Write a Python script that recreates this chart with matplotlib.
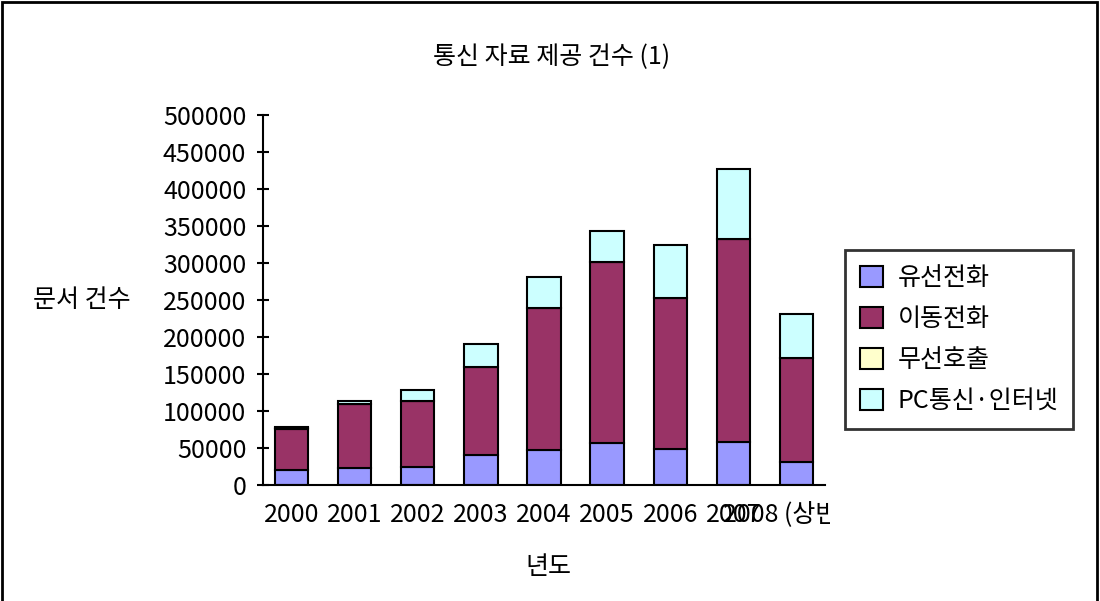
import matplotlib
matplotlib.use('Agg')
import matplotlib.pyplot as plt
import numpy as np
from matplotlib.patches import Rectangle, Patch
from matplotlib.transforms import Bbox

plt.rcParams['font.family'] = ['Noto Sans CJK KR', 'DejaVu Sans']

years = ['2000', '2001', '2002', '2003', '2004', '2005', '2006', '2007', '2008 (상반기)']
wired = [20000, 23000, 25000, 40000, 47000, 57000, 49000, 58000, 31000]
mobile = [56000, 86000, 88000, 119000, 192000, 245000, 204000, 275000, 141000]
paging = [1000, 500, 0, 0, 0, 0, 0, 0, 0]
pc_net = [1500, 4500, 16000, 31000, 42000, 41000, 71000, 94000, 59000]

series = [('유선전화', wired, '#9999FF'),
          ('이동전화', mobile, '#993366'),
          ('무선호출', paging, '#FFFFCC'),
          ('PC통신·인터넷', pc_net, '#CCFFFF')]

FS = 18
W, H = 1100, 601
fig = plt.figure(figsize=(11, 6.01), dpi=100)
ax = fig.add_axes([263 / W, 1 - 485 / H, 562 / W, 370 / H])

x = np.arange(len(years))
bottom = np.zeros(len(years))
handles = []
for name, vals, col in series:
    ax.bar(x, vals, 0.53, bottom=bottom, color=col, edgecolor='black', linewidth=1.5)
    bottom += np.array(vals)
    handles.append(Patch(facecolor=col, edgecolor='black', linewidth=1.5, label=name))

ax.set_xlim(-0.45, len(years) - 0.55)
ax.set_ylim(0, 500000)
ax.set_yticks(np.arange(0, 500001, 50000))
ax.set_yticklabels([str(v) for v in range(0, 500001, 50000)], fontsize=FS)
ax.tick_params(axis='y', direction='inout', length=8, width=1.5, pad=8)
ax.set_xticks(x)
labels = ax.set_xticklabels(years, fontsize=FS)
ax.tick_params(axis='x', length=0, pad=12)
# excel cuts the last label off at the plot edge
clip = Bbox.from_extents(0, 0, 830, H)
for t in labels:
    t.set_clip_box(clip)
    t.set_clip_on(True)
for s in ['top', 'right']:
    ax.spines[s].set_visible(False)
for s in ['left', 'bottom']:
    ax.spines[s].set_linewidth(1.5)

fig.text(552 / W, 1 - 57 / H, '통신 자료 제공 건수 (1)', ha='center', va='center', fontsize=FS)
fig.text(82 / W, 1 - 300 / H, '문서 건수', ha='center', va='center', fontsize=FS)
fig.text(548 / W, 1 - 567 / H, '년도', ha='center', va='center', fontsize=FS)

leg = fig.legend(handles=handles, loc='upper left', bbox_to_anchor=(845 / W, 1 - 250 / H),
                 fontsize=FS, frameon=True, fancybox=False, handlelength=0.9, handleheight=0.9,
                 labelspacing=0.6, borderpad=0.6, handletextpad=0.6, borderaxespad=0)
leg.get_frame().set_edgecolor('black')
leg.get_frame().set_linewidth(2)

fig.patches.append(Rectangle((2 / W, -0.1), 1095 / W, 1.1 - 2 / H, transform=fig.transFigure,
                             fill=False, edgecolor='black', linewidth=2))

fig.savefig('out.png', dpi=100)
